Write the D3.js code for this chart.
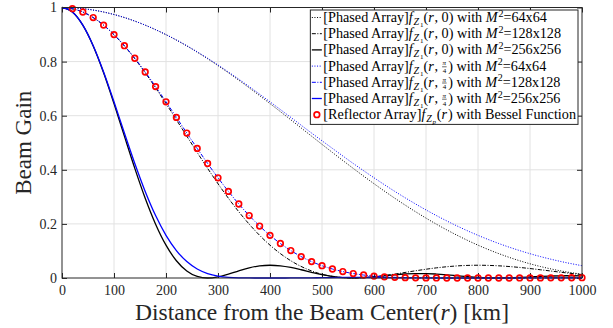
<!DOCTYPE html>
<html lang="en">
<head>
<meta charset="utf-8">
<title>Beam Gain vs Distance</title>
<script src="https://d3js.org/d3.v7.min.js"></script>
<style>
  body { margin: 0; background: #fff; }
  svg text { font-family: "Liberation Serif", "DejaVu Serif", serif; fill: #262626; }
  .grid line { stroke: #e2e2e2; stroke-width: 1; }
  .tick line { stroke: #262626; }
  .legend text { white-space: pre; fill: #000; }
</style>
</head>
<body>
<div id="chart"></div>
<script>
// distances (km) for each sampling grid
var dist20 = d3.range(0, 1001, 20);
var dist40 = d3.range(0, 1001, 40);
var distB256 = d3.range(0, 501, 20).concat(d3.range(550, 1001, 50));
var distRed = d3.range(20, 1001, 20);

// [Phased Array] f_Z1(r,0)
var black64 = [1, 0.9958, 0.9833, 0.9628, 0.9346, 0.8994, 0.8578, 0.8106, 0.7587, 0.7031, 0.6448, 0.5849, 0.5243,
  0.4641, 0.4053, 0.3486, 0.2949, 0.2449, 0.1990, 0.1578, 0.1214, 0.0901, 0.0638, 0.0425, 0.0260, 0.0139];
var black128 = [1, 0.9833, 0.9346, 0.8578, 0.7587, 0.6448, 0.5243, 0.4053, 0.2949, 0.1990, 0.1214, 0.0638, 0.0260,
  0.0058, 0, 0.0044, 0.0146, 0.0267, 0.0375, 0.0447, 0.0472, 0.0450, 0.0390, 0.0305, 0.0211, 0.0124];
var black256 = [1, 0.9833, 0.9346, 0.8578, 0.7587, 0.6448, 0.5243, 0.4053, 0.2949, 0.1990, 0.1214, 0.0638, 0.0260,
  0.0058, 0, 0.0044, 0.0146, 0.0267, 0.0375, 0.0447, 0.0472, 0.0450, 0.0390, 0.0305, 0.0211, 0.0124, 0.0055,
  0.0013, 0, 0.0012, 0.0042, 0.0080, 0.0119, 0.0148, 0.0163, 0.0162, 0.0146, 0.0118, 0.0084, 0.0051, 0.0023,
  0.0006, 0, 0.0005, 0.0019, 0.0038, 0.0057, 0.0073, 0.0082, 0.0083, 0.0076];

// [Phased Array] f_Z1(r,pi/4)
var blue64 = [1, 0.9958, 0.9833, 0.9629, 0.9349, 0.8999, 0.8588, 0.8124, 0.7616, 0.7076, 0.6513, 0.5938, 0.5358,
  0.4792, 0.4235, 0.3705, 0.3202, 0.2736, 0.2308, 0.1921, 0.1577, 0.1275, 0.1014, 0.0792, 0.0607, 0.0455];
var blue128 = [1, 0.9958, 0.9833, 0.9629, 0.9349, 0.8999, 0.8588, 0.8124, 0.7616, 0.7076, 0.6513, 0.5938, 0.5358,
  0.4792, 0.4235, 0.3705, 0.3202, 0.2736, 0.2308, 0.1921, 0.1577, 0.1275, 0.1014, 0.0792, 0.0607, 0.0455, 0.0333,
  0.0238, 0.0165, 0.0110, 0.0071, 0.0043, 0.0025, 0.0013, 0.0006, 0.0003, 0.0001, 0, 0, 0, 0, 0, 0, 0, 0.0001,
  0.0002, 0.0003, 0.0005, 0.0007, 0.0009, 0.0012];
var blue256 = [1, 0.9833, 0.9349, 0.8588, 0.7616, 0.6513, 0.5358, 0.4235, 0.3202, 0.2308, 0.1577, 0.1014, 0.0607,
  0.0333, 0.0165, 0.0071, 0.0025, 0.0006, 0.0001, 0, 0, 0, 0.0001, 0.0003, 0.0007, 0.0012,
  0.0022, 0.0019, 0.0009, 0.0002, 0, 0, 0, 0.0001, 0.0003, 0.0002];

// [Reflector Array] f_Zp(r), Bessel
var reflector = [0.9958, 0.9833, 0.9629, 0.9349, 0.8999, 0.8588, 0.8124, 0.7616, 0.7076, 0.6513, 0.5938, 0.5358,
  0.4792, 0.4235, 0.3705, 0.3202, 0.2736, 0.2308, 0.1921, 0.1577, 0.1275, 0.1014, 0.0792, 0.0607, 0.0455, 0.0333,
  0.0238, 0.0165, 0.0110, 0.0071, 0.0043, 0.0025, 0.0013, 0.0006, 0.0003, 0.0001, 0, 0, 0, 0, 0, 0, 0, 0.0001,
  0.0002, 0.0003, 0.0005, 0.0007, 0.0009, 0.0012];

var xTicks = [0, 100, 200, 300, 400, 500, 600, 700, 800, 900, 1000];
var yTicks = [0, 0.2, 0.4, 0.6, 0.8, 1];

var margin = { top: 7.5, right: 31, bottom: 50, left: 62 };
var width = 613 - margin.left - margin.right;
var height = 328 - margin.top - margin.bottom;

var svg = d3.select("#chart").append("svg")
  .attr("width", 613).attr("height", 328);
var g = svg.append("g")
  .attr("transform", "translate(" + margin.left + "," + margin.top + ")");

var x = d3.scaleLinear().domain([0, 1000]).range([0, width]);
var y = d3.scaleLinear().domain([0, 1]).range([height, 0]);

// grid
var grid = g.append("g").attr("class", "grid");
grid.selectAll(".gx").data(xTicks.slice(1, -1)).join("line")
  .attr("x1", d => x(d)).attr("x2", d => x(d)).attr("y1", 0).attr("y2", height);
grid.selectAll(".gy").data(yTicks.slice(1, -1)).join("line")
  .attr("y1", d => y(d)).attr("y2", d => y(d)).attr("x1", 0).attr("x2", width);

// axes with inward ticks
g.append("g").attr("transform", "translate(0," + height + ")")
  .call(d3.axisBottom(x).tickValues(xTicks).tickFormat(d3.format("d")).tickSizeInner(-5).tickSizeOuter(0).tickPadding(7))
  .call(a => a.select(".domain").remove())
  .call(a => a.selectAll("text").style("font-size", "14px"));
g.append("g")
  .call(d3.axisLeft(y).tickValues(yTicks).tickFormat(d3.format("~g")).tickSizeInner(-5).tickSizeOuter(0).tickPadding(5))
  .call(a => a.select(".domain").remove())
  .call(a => a.selectAll("text").style("font-size", "14px"));
g.append("g")
  .call(d3.axisTop(x).tickValues(xTicks).tickFormat("").tickSizeInner(-5).tickSizeOuter(0))
  .call(a => a.select(".domain").remove());
g.append("g").attr("transform", "translate(" + width + ",0)")
  .call(d3.axisRight(y).tickValues(yTicks).tickFormat("").tickSizeInner(-5).tickSizeOuter(0))
  .call(a => a.select(".domain").remove());

// series
var series = [
  { vals: black64, dist: dist40, color: "#000", dash: "1,1.6", w: 1 },
  { vals: black128, dist: dist40, color: "#000", dash: "4,1.5,1,1.5", w: 1 },
  { vals: black256, dist: dist20, color: "#000", dash: null, w: 1.3 },
  { vals: blue64, dist: dist40, color: "#0000ff", dash: "1,1.6", w: 1 },
  { vals: blue128, dist: dist20, color: "#0000ff", dash: "4,1.5,1,1.5", w: 1 },
  { vals: blue256, dist: distB256, color: "#0000ff", dash: null, w: 1.3 }
];

var line = d3.line()
  .x(d => x(d[0]))
  .y(d => y(d[1]))
  .curve(d3.curveMonotoneX);

series.forEach(function (s) {
  g.append("path")
    .datum(s.vals.map((v, i) => [s.dist[i], v]))
    .attr("fill", "none")
    .attr("stroke", s.color)
    .attr("stroke-width", s.w)
    .attr("stroke-dasharray", s.dash)
    .attr("d", line);
});

g.selectAll(".refl").data(reflector).join("circle")
  .attr("cx", (d, i) => x(distRed[i]))
  .attr("cy", d => y(d))
  .attr("r", 2.8)
  .attr("fill", "none")
  .attr("stroke", "#ff0000")
  .attr("stroke-width", 1.7);

// axes box
g.append("rect")
  .attr("width", width).attr("height", height)
  .attr("fill", "none").attr("stroke", "#262626").attr("stroke-width", 1);

// axis titles
svg.append("text")
  .attr("x", margin.left + width / 2).attr("y", 320)
  .attr("text-anchor", "middle")
  .style("font-size", "23.5px")
  .call(t => {
    t.append("tspan").text("Distance from the Beam Center(");
    t.append("tspan").style("font-style", "italic").text("r");
    t.append("tspan").text(") [km]");
  });
svg.append("text")
  .attr("transform", "translate(31," + (margin.top + height / 2) + ") rotate(-90)")
  .attr("text-anchor", "middle")
  .style("font-size", "23px")
  .text("Beam Gain");

// legend
var sty = {
  rm: { size: 14.2, dy: 0 },
  it: { size: 14.2, dy: 0, it: true },
  subit: { size: 10, dy: 3, it: true },
  sub2: { size: 7, dy: 5 },
  sub2it: { size: 7, dy: 5, it: true },
  sup: { size: 10, dy: -5.5 }
};
function fZ1(arg, m) {
  return [["[Phased Array]", "rm"], ["f", "it"], ["Z", "subit"], ["1", "sub2"], ["(", "rm"], ["r", "it"]]
    .concat(arg)
    .concat([[") with ", "rm"], ["M", "it"], ["2", "sup"], ["=" + m, "rm"]]);
}
var legendRows = [
  { s: 0, parts: fZ1([[", 0", "rm"]], "64x64") },
  { s: 1, parts: fZ1([[", 0", "rm"]], "128x128") },
  { s: 2, parts: fZ1([[", 0", "rm"]], "256x256") },
  { s: 3, parts: fZ1([[", ", "rm"], ["", "frac"]], "64x64") },
  { s: 4, parts: fZ1([[", ", "rm"], ["", "frac"]], "128x128") },
  { s: 5, parts: fZ1([[", ", "rm"], ["", "frac"]], "256x256") },
  { s: -1, parts: [["[Reflector Array]", "rm"], ["f", "it"], ["Z", "subit"], ["p", "sub2it"], ["(", "rm"], ["r", "it"],
    [") with Bessel Function", "rm"]] }
];

function mathText(parent, x0, yb, parts) {
  var cx = x0;
  parts.forEach(function (p) {
    if (p[1] === "frac") {
      // small stacked pi/4
      var num = parent.append("text").attr("y", yb - 5.2).style("font-size", "7px").style("font-style", "italic").text("π");
      var den = parent.append("text").attr("y", yb + 2.6).style("font-size", "7px").text("4");
      var wn = num.node().getComputedTextLength(), wd = den.node().getComputedTextLength();
      var w = Math.max(wn, wd) + 2;
      num.attr("x", cx + (w - wn) / 2);
      den.attr("x", cx + (w - wd) / 2);
      parent.append("line").attr("x1", cx + 0.5).attr("x2", cx + w - 0.5)
        .attr("y1", yb - 3.8).attr("y2", yb - 3.8).attr("stroke", "#000").attr("stroke-width", 0.6);
      cx += w + 1;
      return;
    }
    var st = sty[p[1]];
    var t = parent.append("text").attr("x", cx).attr("y", yb + st.dy)
      .style("font-size", st.size + "px")
      .style("font-style", st.it ? "italic" : "normal")
      .text(p[0]);
    cx += t.node().getComputedTextLength() + (st.it ? 0.8 : 0);
  });
  return cx - x0;
}

var legend = svg.append("g").attr("class", "legend");
var boxRight = margin.left + width - 4;
var boxTop = 10, rowH = 16.2;
var legendBg = legend.append("rect");
var rowsG = legend.append("g");
var maxW = 0;
legendRows.forEach(function (row, i) {
  var w = mathText(rowsG, 0, boxTop + 7.5 + i * rowH + 4.5, row.parts);
  maxW = Math.max(maxW, w);
});
var boxW = maxW + 15;
var boxLeft = boxRight - boxW;
rowsG.attr("transform", "translate(" + (boxLeft + 13) + ",0)");
legendBg.attr("x", boxLeft).attr("y", boxTop).attr("width", boxW).attr("height", rowH * 7 + 1)
  .attr("fill", "#fff").attr("stroke", "#262626").attr("stroke-width", 1);

legendRows.forEach(function (row, i) {
  var cy = boxTop + 7.5 + i * rowH;
  if (row.s < 0) {
    legend.append("circle").attr("cx", boxLeft + 6.5).attr("cy", cy).attr("r", 2.8)
      .attr("fill", "none").attr("stroke", "#ff0000").attr("stroke-width", 1.7);
  } else {
    var s = series[row.s];
    legend.append("line").attr("x1", boxLeft + 1.5).attr("x2", boxLeft + 11.5)
      .attr("y1", cy).attr("y2", cy)
      .attr("stroke", s.color).attr("stroke-width", s.w).attr("stroke-dasharray", s.dash);
  }
});
</script>
</body>
</html>
